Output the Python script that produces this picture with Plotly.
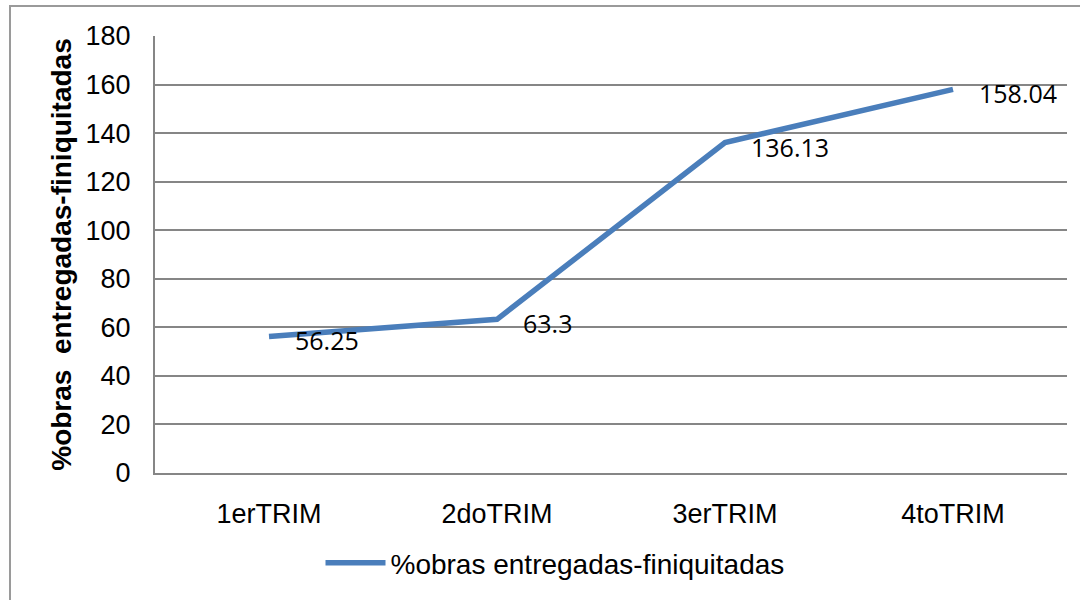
import plotly.graph_objects as go

categories = ["1erTRIM", "2doTRIM", "3erTRIM", "4toTRIM"]
values = [56.25, 63.3, 136.13, 158.04]
value_labels = ["56.25", "63.3", "136.13", "158.04"]
series_name = "%obras entregadas-finiquitadas"
y_ticks = [0, 20, 40, 60, 80, 100, 120, 140, 160, 180]

W, H = 1080, 600
L, R, T, B = 155, 13, 36, 127
pw, ph = W - L - R, H - T - B

fig = go.Figure()
fig.add_trace(go.Scatter(
    x=categories, y=values, mode="lines", name=series_name,
    line=dict(color="#4A7EBB", width=5.5),
))
for c, v, t in zip(categories, values, value_labels):
    fig.add_annotation(x=c, y=v, text=t, showarrow=False, xanchor="left",
                       xshift=24, yshift=-4,
                       font=dict(family="Open Sans", size=25, color="#000000"))

# outer chart border
bx0, bx1, by0, by1 = 10, 1090, 6, 612
fig.add_shape(type="rect", xref="paper", yref="paper",
              x0=(bx0 - L) / pw, x1=(bx1 - L) / pw,
              y0=(H - B - by1) / ph, y1=(H - B - by0) / ph,
              line=dict(color="#9a9a9a", width=2), fillcolor="rgba(0,0,0,0)",
              layer="below")

fig.update_layout(
    width=W, height=H,
    margin=dict(l=L, r=R, t=T, b=B),
    paper_bgcolor="white", plot_bgcolor="white",
    font=dict(family="Liberation Sans", size=27, color="#000000"),
    showlegend=True,
    legend=dict(orientation="h", x=(555 - L) / pw, xanchor="center",
                y=-(563 - (H - B)) / ph, yanchor="middle",
                font=dict(size=28), itemwidth=60),
    xaxis=dict(type="category", range=[-0.5, 3.5], showgrid=False,
               showline=True, linecolor="#868686", linewidth=2,
               ticks="", ticklabelstandoff=16, tickfont=dict(size=27)),
    yaxis=dict(range=[0, 180], tickvals=y_ticks, showgrid=True,
               gridcolor="#868686", gridwidth=1.5, zeroline=False,
               showline=True, linecolor="#868686", linewidth=2,
               ticks="", ticklabelstandoff=17, tickfont=dict(size=27),
               title=dict(text="<b>%obras  entregadas-finiquitadas</b>",
                          font=dict(size=28, family="Liberation Sans"),
                          standoff=6)),
)
fig.write_html("out.html", config={"displayModeBar": False},
               post_script="document.body.style.margin='0';")
